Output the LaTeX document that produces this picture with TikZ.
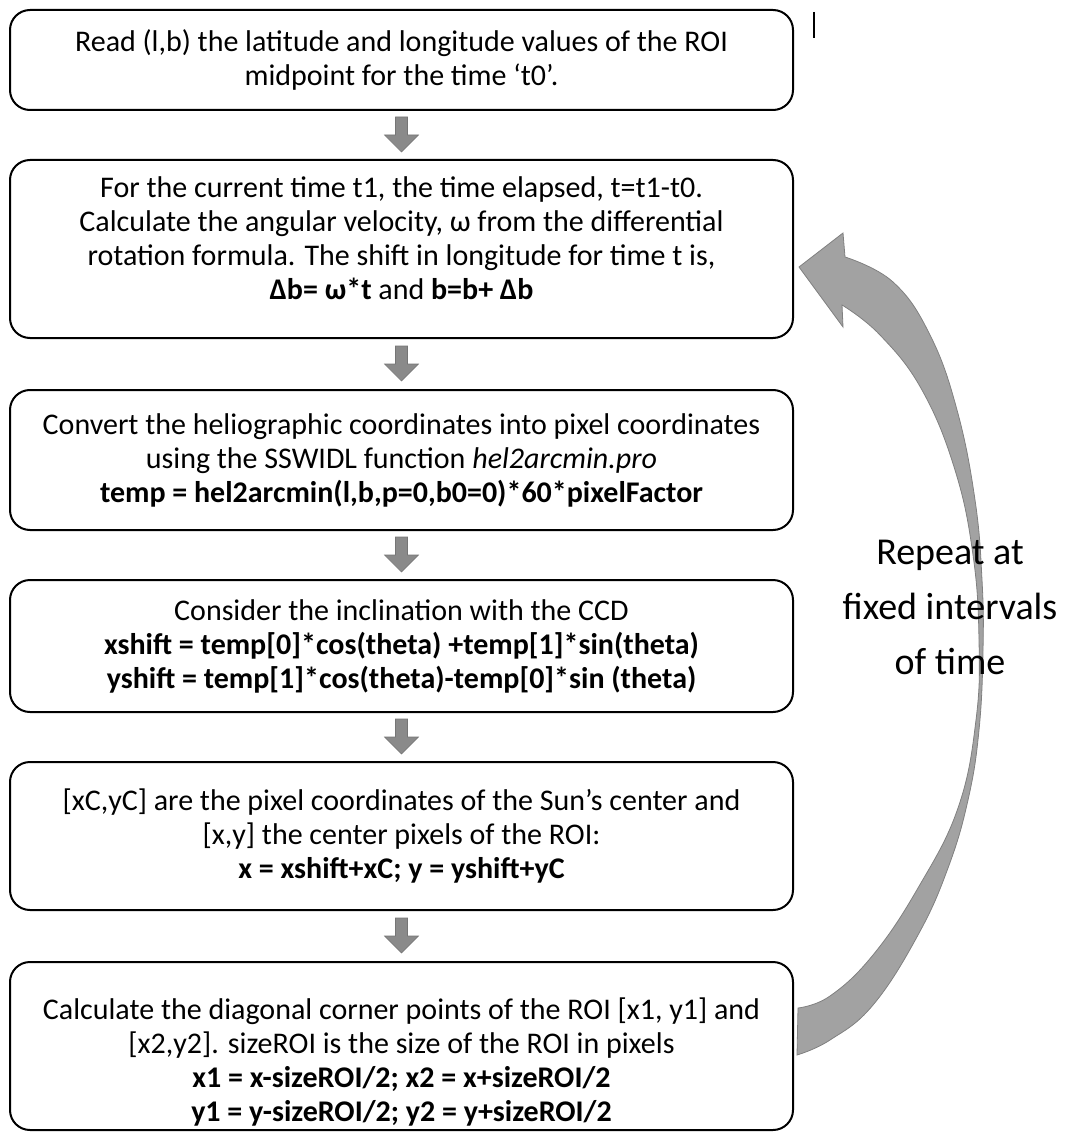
\documentclass[tikz,border=0pt]{standalone}
\usepackage{fontspec}
\setmainfont{Carlito}
\usepackage{tikz}
\usetikzlibrary{calc}
\definecolor{arrgray}{RGB}{138,138,138}
\definecolor{loopgray}{RGB}{162,162,162}
\definecolor{loopedge}{RGB}{128,128,128}
\tikzset{
  stepbox/.style={draw,line width=1pt,rounded corners=10pt,align=center,
    minimum width=391.5pt,inner sep=0pt,font=\fontsize{15}{17}\selectfont},
  downarr/.pic={\fill[arrgray,draw=arrgray!85!black,line width=0.3pt]
    (-6,-18) -- (6,-18) -- (6,0) -- (17,0) -- (0,17) -- (-17,0) -- (-6,0) -- cycle;},
  repeattext/.style={align=center,font=\fontsize{19}{27.5}\selectfont}
}

\begin{document}
\begin{tikzpicture}[x=0.5pt,y=-0.5pt] % 1 unit = 1 pixel of the original
  \useasboundingbox (0,0) rectangle (1072,1134);

  \node[stepbox,minimum height=50pt] (read) at (401.5,60)
    {Read (l,b) the latitude and longitude values of the ROI\\
     midpoint for the time ‘t0’.};
  \node[stepbox,minimum height=89pt] (omega) at (401.5,249)
    {For the current time t1, the time elapsed, t=t1-t0.\\
     Calculate the angular velocity, ω from the differential\\
     rotation formula. The shift in longitude for time t is,\\
     \textbf{Δb= ω*t} and \textbf{b=b+ Δb}\rule[-11pt]{0pt}{0pt}};
  \node[stepbox,minimum height=70pt] (convert) at (401.5,460)
    {Convert the heliographic coordinates into pixel coordinates\\
     using the SSWIDL function \textit{hel2arcmin.pro}\\
     \textbf{temp = hel2arcmin(l,b,p=0,b0=0)*60*pixelFactor}};
  \node[stepbox,minimum height=66pt] (incl) at (401.5,646)
    {Consider the inclination with the CCD\\
     \textbf{xshift = temp[0]*cos(theta) +temp[1]*sin(theta)}\\
     \textbf{yshift = temp[1]*cos(theta)-temp[0]*sin (theta)}};
  \node[stepbox,minimum height=74pt] (center) at (401.5,836)
    {[xC,yC] are the pixel coordinates of the Sun’s center and\\
     {[x,y]} the center pixels of the ROI:\\
     \textbf{x = xshift+xC; y = yshift+yC}};
  \node[stepbox,minimum height=84pt] (corner) at (401.5,1046)
    {\rule{0pt}{27pt}Calculate the diagonal corner points of the ROI [x1, y1] and\\
     {[x2,y2]}. sizeROI is the size of the ROI in pixels\\
     \textbf{x1 = x-sizeROI/2; x2 = x+sizeROI/2}\\
     \textbf{y1 = y-sizeROI/2; y2 = y+sizeROI/2}};

  % block arrows between the steps
  \pic at ($(read.south)!0.5!(omega.north)$) {downarr};
  \pic at ($(omega.south)!0.5!(convert.north)$) {downarr};
  \pic at ($(convert.south)!0.5!(incl.north)$) {downarr};
  \pic at ($(incl.south)!0.5!(center.north)$) {downarr};
  \pic at ($(center.south)!0.5!(corner.north)$) {downarr};

  % curved arrow back to the second step
  \coordinate (loopstart) at ($(corner.east)+(4,-38)$);
  \coordinate (looptip) at ($(omega.east)+(5,18)$);
  \filldraw[fill=loopgray,draw=loopedge,line width=0.4pt]
    plot[smooth,tension=0.7] coordinates {(loopstart) (830,996) (873,955)
      (918,888) (958,808) (976,720) (979,640) (973,555) (955,470) (922,390)
      (880,335) (842,305)}
    -- (843,327) -- (looptip) -- (843,233) -- (845,257)
    -- plot[smooth,tension=0.7] coordinates {(845,257) (893,282) (930,335)
      (957,410) (975,500) (982,580) (983,650) (979,730) (968,800) (948,868)
      (918,935) (873,1005) (830,1040) (797,1055)}
    -- cycle;

  \node[repeattext] (repeat) at (950,607) {Repeat at\\ fixed intervals\\ of time};

  \draw[line width=0.6pt] (814,12) -- (814,38);
\end{tikzpicture}
\end{document}
